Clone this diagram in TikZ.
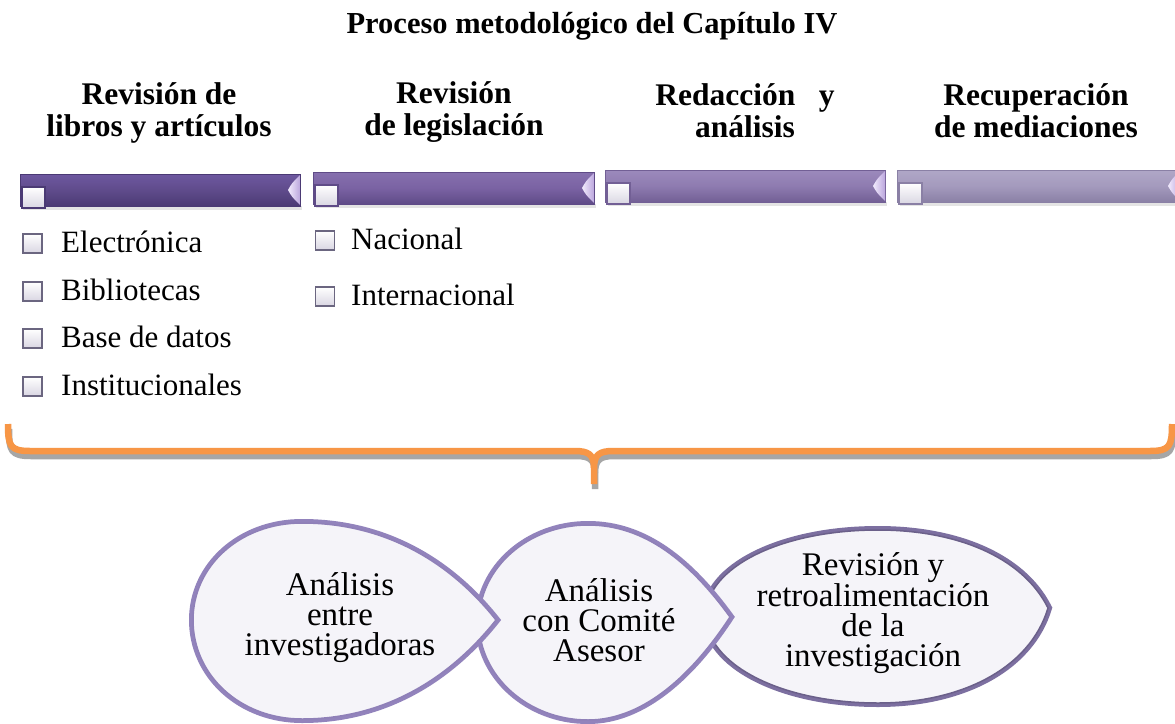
\documentclass[tikz,border=0pt]{standalone}
\usepackage{fontspec}
\setmainfont{Liberation Serif}
\definecolor{bubin}{HTML}{F5F4F9}
\definecolor{bubout}{HTML}{D3CCE4}
\definecolor{bubedge}{HTML}{8F80B8}
\definecolor{bubrim}{HTML}{9283BC}
\definecolor{orng}{HTML}{F79646}
\definecolor{shgray}{HTML}{A6A6A6}
\definecolor{boxfill}{HTML}{D9D6E2}
\definecolor{boxedge}{HTML}{6B6680}
\definecolor{notchA}{HTML}{F2EBFD}
\definecolor{notchB}{HTML}{BBA6DD}
\definecolor{bat}{HTML}{6E58A0}\definecolor{bam}{HTML}{5F4B8B}\definecolor{bab}{HTML}{4B3A74}
\definecolor{bbt}{HTML}{8670AE}\definecolor{bbm}{HTML}{7A62A3}\definecolor{bbb}{HTML}{5F4B87}
\definecolor{bct}{HTML}{9C8ABC}\definecolor{bcm}{HTML}{8E7BB0}\definecolor{bcb}{HTML}{725F95}
\definecolor{bdt}{HTML}{B0A7C7}\definecolor{bdm}{HTML}{A49ABD}\definecolor{bdb}{HTML}{8A80A5}
\pgfdeclareradialshading{bubshade}{\pgfpoint{0bp}{0bp}}{color(0bp)=(bubin); color(28bp)=(bubin); color(46bp)=(bubout); color(50bp)=(bubout)}
\newcommand\mybar[7]{%
  \fill[black!30, opacity=0.35] ({#1+3},{#4}) rectangle ({#3+2},{#4+4});
  \path[draw=#7, line width=0.6, top color=#5, bottom color=#7, middle color=#6] ({#1},{#2}) rectangle ({#3},{#4});
  \path[left color=notchA, right color=notchB] ({#3},{#2+1}) .. controls ({#3-8},{(#2+#4)/2-7}) .. ({#3-12},{(#2+#4)/2}) .. controls ({#3-8},{(#2+#4)/2+7}) .. ({#3},{#4-1}) -- cycle;
  \path[draw=#7, line width=1.2, top color=white, bottom color=boxfill] ({#1+2},{(#2+#4)/2-3}) rectangle ({#1+25},{#4+2});
}
\begin{document}
\begin{tikzpicture}[x=1pt,y=-1pt]
\tikzset{
  hdr/.style={font=\fontsize{31.5}{32}\selectfont\bfseries, align=center, inner sep=0},
  itm/.style={font=\fontsize{31}{31}\selectfont, anchor=base west, inner sep=0},
  chk/.style={draw=boxedge, line width=1.6, top color=white, bottom color=boxfill, minimum width=19pt, minimum height=19pt, inner sep=0},
  bubtxt/.style={font=\fontsize{33}{30}\selectfont, align=center, inner sep=0},
  bubbody/.style={shading=bubshade, draw=bubedge, line width=1.5},
  bubrimst/.style={draw=bubrim, line width=8},
  brace/.style={line width=6.5, line cap=butt, line join=round},
}
\useasboundingbox (0,0) rectangle (1175,723);
\fill[white] (0,0) rectangle (1175,723);

% title
\node[font=\fontsize{30.5}{30}\selectfont\bfseries, inner sep=0] (title) at (592,26) {Proceso metodológico del Capítulo IV};

% headers
\node[hdr] (h1) at (159,113) {Revisión de\\libros y artículos};
\node[hdr] (h2) at (454,112) {Revisión\\de legislación};
\node[hdr] (h3) at (745,111) {Redacción\hspace{0.75em}y\\análisis};
\node[hdr] (h4) at (1036,111) {Recuperación\\de mediaciones};

% bars
\mybar{20}{174}{300}{206}{bat}{bam}{bab}
\mybar{313}{172}{594}{204}{bbt}{bbm}{bbb}
\mybar{605}{170}{885}{202}{bct}{bcm}{bcb}
\mybar{897}{170}{1180}{202}{bdt}{bdm}{bdb}

% items left
\node[chk] (c1) at (32.5,243.5) {};
\node[itm] (i1) at (61,252) {Electrónica};
\node[chk] (c2) at (32.5,291.5) {};
\node[itm] (i2) at (61,300) {Bibliotecas};
\node[chk] (c3) at (32.5,338.5) {};
\node[itm] (i3) at (61,347) {Base de datos};
\node[chk] (c4) at (32.5,386.5) {};
\node[itm] (i4) at (61,395) {Institucionales};
% items right
\node[chk] (c5) at (325,240.5) {};
\node[itm] (i5) at (351,249) {Nacional};
\node[chk] (c6) at (325,296.5) {};
\node[itm] (i6) at (351,305) {Internacional};

% brace
\begin{scope}[shift={(1,5)}]
\draw[brace, shgray] (8,424) .. controls (8,446) and (10,451) .. (30,451) -- (575,451) .. controls (589,451) and (594,455) .. (594,468) -- (594,484);
\draw[brace, shgray] (1172,424) .. controls (1172,446) and (1170,451) .. (1150,451) -- (613,451) .. controls (599,451) and (594,455) .. (594,468);
\end{scope}
\draw[brace, orng] (8,424) .. controls (8,446) and (10,451) .. (30,451) -- (575,451) .. controls (589,451) and (594,455) .. (594,468) -- (594,484);
\draw[brace, orng] (1172,424) .. controls (1172,446) and (1170,451) .. (1150,451) -- (613,451) .. controls (599,451) and (594,455) .. (594,468);

% bubbles (drawn right to left)
\def\bubC{(1048,608) .. controls (1022,556) and (955,530) .. (878,530) .. controls (780,530) and (706,568) .. (706,615) .. controls (706,664) and (780,703) .. (878,703) .. controls (962,703) and (1030,668) .. (1048,608) -- cycle}
\def\bubB{(730,617) .. controls (690,562) and (645,525) .. (588,525) .. controls (528,525) and (479,568) .. (479,622) .. controls (479,676) and (528,720) .. (588,720) .. controls (645,720) and (694,672) .. (730,617) -- cycle}
\def\bubA{(496,620) .. controls (450,562) and (385,523) .. (302,523) .. controls (240,523) and (193,566) .. (193,620) .. controls (193,675) and (240,719) .. (302,719) .. controls (385,719) and (450,678) .. (496,620) -- cycle}
\draw[bubrimst, draw=bubrim!85!black] \bubC;
\path[bubbody, draw=bubedge!75!black] \bubC;
\draw[bubrimst] \bubB;
\path[bubbody] \bubB;
\draw[bubrimst] \bubA;
\path[bubbody] \bubA;

\node[bubtxt] (t1) at (340,618) {Análisis\\entre\\investigadoras};
\node[bubtxt] (t2) at (599,620) {Análisis\\con Comité\\Asesor};
\node[bubtxt] (t3) at (873,613) {Revisión y\\retroalimentación\\de la\\investigación};
\end{tikzpicture}
\end{document}
